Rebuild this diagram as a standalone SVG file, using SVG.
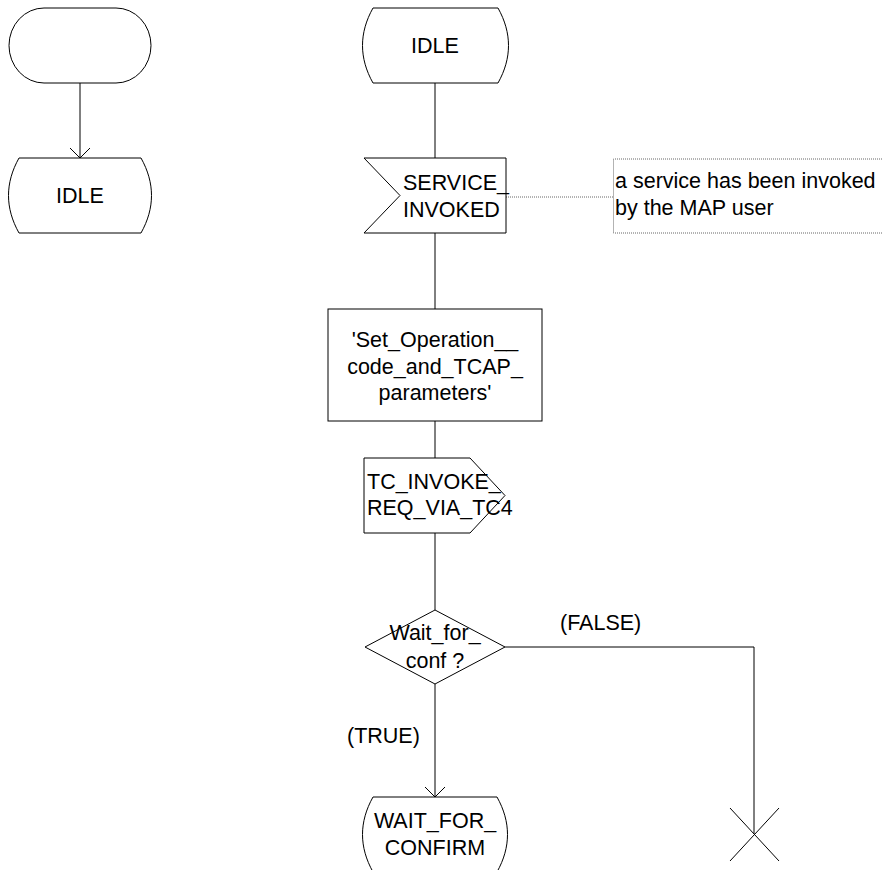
<svg xmlns="http://www.w3.org/2000/svg" width="882" height="870" viewBox="0 0 882 870">
<defs>
<style>
.s{fill:#fff;stroke:#000;stroke-width:1}
.l{fill:none;stroke:#000;stroke-width:1}
.d{fill:none;stroke:#666;stroke-width:1;stroke-dasharray:1,1}
text{font-family:"Liberation Sans",Arial,sans-serif;font-size:21.5px;fill:#000}
.c{text-anchor:middle}
</style>
<marker id="arr" markerWidth="14" markerHeight="24" refX="11" refY="11" orient="auto" markerUnits="userSpaceOnUse" viewBox="0 0 14 24">
<path d="M1,1 L11,11 L1,21" fill="none" stroke="#000" stroke-width="1"/>
</marker>
</defs>
<rect width="882" height="870" fill="#fff"/>
<g id="connectors">
<line class="l" x1="80" y1="83" x2="80" y2="158" marker-end="url(#arr)"/>
<line class="l" x1="435" y1="83" x2="435" y2="158"/>
<line class="l" x1="435" y1="233" x2="435" y2="309"/>
<line class="l" x1="435" y1="421" x2="435" y2="458"/>
<line class="l" x1="435" y1="533" x2="435" y2="610"/>
<line class="l" x1="435" y1="684" x2="435" y2="797" marker-end="url(#arr)"/>
<polyline class="l" points="505,647 754,647 754,834"/>
<line class="d" x1="506" y1="197" x2="613" y2="197"/>
<text x="347" y="743">(TRUE)</text>
<text x="560" y="630">(FALSE)</text>
</g>
<g id="start">
<rect class="s" x="9" y="8" width="142" height="75" rx="35" ry="37.5"/>
</g>
<g id="idle_left">
<path class="s" d="M19,158 H141 C155,183 155,208 141,233 H19 C5,208 5,183 19,158 Z"/>
<text class="c" x="80" y="203">IDLE</text>
</g>
<g id="idle_right">
<path class="s" d="M373,8 H498 C512,33 512,58 498,83 H373 C359,58 359,33 373,8 Z"/>
<text class="c" x="435" y="53">IDLE</text>
</g>
<g id="service_invoked">
<path class="s" d="M364,158 H506 V233 H364 L400,195.5 Z"/>
<text x="403" y="190">SERVICE_</text>
<text x="403" y="217">INVOKED</text>
</g>
<g id="comment">
<path class="d" d="M882,159 H613.5 V233 H882"/>
<text x="615" y="188">a service has been invoked</text>
<text x="615" y="215">by the MAP user</text>
</g>
<g id="set_operation">
<rect class="s" x="328" y="309" width="214" height="112"/>
<text class="c" x="435" y="347">'Set_Operation__</text>
<text class="c" x="435" y="374">code_and_TCAP_</text>
<text class="c" x="435" y="400">parameters'</text>
</g>
<g id="tc_invoke">
<path class="s" d="M364,458 H470 L505,495.5 L470,533 H364 Z"/>
<text x="367" y="489">TC_INVOKE_</text>
<text x="367" y="515">REQ_VIA_TC4</text>
</g>
<g id="wait_for_conf">
<path class="s" d="M435,610 L505,647 L435,684 L365,647 Z"/>
<text class="c" x="435" y="640">Wait_for_</text>
<text class="c" x="435" y="668">conf ?</text>
</g>
<g id="wait_for_confirm">
<path class="s" d="M373,797 H497 C511,822 511,847 497,872 H373 C359,847 359,822 373,797 Z"/>
<text class="c" x="435" y="828">WAIT_FOR_</text>
<text class="c" x="435" y="855">CONFIRM</text>
</g>
<g id="stop">
<line class="l" x1="730" y1="808" x2="779" y2="861"/>
<line class="l" x1="779" y1="808" x2="730" y2="861"/>
</g>
</svg>
